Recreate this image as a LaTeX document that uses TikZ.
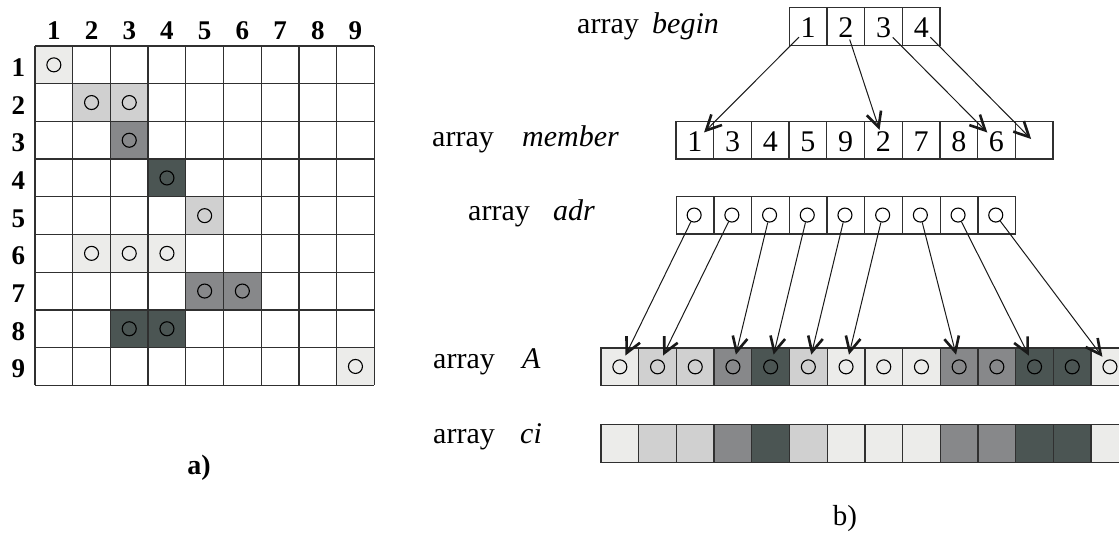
\documentclass[tikz,border=0pt]{standalone}
\usepackage{fontspec}
\setmainfont{Liberation Serif}
\usetikzlibrary{arrows.meta}
\definecolor{cA}{HTML}{ECECEA}
\definecolor{cB}{HTML}{D0D0D0}
\definecolor{cC}{HTML}{87888A}
\definecolor{cD}{HTML}{4B5553}
\definecolor{lineC}{HTML}{303030}
\begin{document}
\begin{tikzpicture}[x=1pt,y=-1pt,
  gl/.style={draw=lineC,line width=1.3pt},
  cellbox/.style={draw=lineC,line width=1.3pt,minimum size=37.7pt,inner sep=0pt,outer sep=0pt},
  dot/.style={circle,draw=black,line width=1.1pt,minimum size=14pt,inner sep=0pt},
  glab/.style={font=\fontsize{27}{30}\selectfont\bfseries,inner sep=0pt},
  txt/.style={font=\fontsize{30}{32}\selectfont,inner sep=0pt},
  dig/.style={font=\fontsize{30}{32}\selectfont,inner sep=1.5pt,anchor=base},
  arr/.style={draw=black!90,line width=1pt,-{Straight Barb[length=15pt,width=15pt,line width'=2.6pt]}}
]
\useasboundingbox (0,0) rectangle (1119,533);
\clip (0,0) rectangle (1119,533);
\def\cs{37.7}
% ---------- a) grid ----------
\foreach \r/\c/\col in {1/1/cA,2/2/cB,2/3/cB,3/3/cC,4/4/cD,5/5/cB,6/2/cA,6/3/cA,6/4/cA,7/5/cC,7/6/cC,8/3/cD,8/4/cD,9/9/cA}{
  \fill[\col] ({35+(\c-1)*\cs},{46+(\r-1)*\cs}) rectangle +(\cs,\cs);
  \node[dot] (g\r-\c) at ({35+(\c-0.5)*\cs},{46+(\r-0.5)*\cs}) {};
}
\foreach \i in {0,...,9}{
  \draw[gl] ({35+\i*\cs},46) -- ({35+\i*\cs},{46+9*\cs});
  \draw[gl] (35,{46+\i*\cs}) -- ({35+9*\cs},{46+\i*\cs});
}
\foreach \i in {1,...,9}{
  \node[glab,anchor=base] (cl\i) at ({35+(\i-0.5)*\cs},39.5) {\i};
  \node[glab,anchor=base] (rl\i) at (18.5,{46+(\i-0.5)*\cs+11.5}) {\i};
}
\node[font=\fontsize{28}{30}\selectfont\bfseries,anchor=base,inner sep=0pt] (la) at (199,474) {a)};
% ---------- b) labels ----------
\node[txt,anchor=base west] (lb1) at (577,33) {array};
\node[txt,anchor=base west] (lb2) at (652,33) {\itshape begin};
\node[txt,anchor=base west] (lm1) at (432,146.7) {array};
\node[txt,anchor=base west] (lm2) at (522,146.7) {\itshape member};
\node[txt,anchor=base west] (ld1) at (468,220) {array};
\node[txt,anchor=base west] (ld2) at (553,220) {\itshape adr};
\node[txt,anchor=base west] (lA1) at (433,368) {array};
\node[txt,anchor=base west] (lA2) at (522,368) {\itshape A};
\node[txt,anchor=base west] (lc1) at (433,443) {array};
\node[txt,anchor=base west] (lc2) at (520,443) {\itshape ci};
\node[font=\fontsize{29}{32}\selectfont,anchor=base,inner sep=0pt] (lbb) at (845,525) {b)};
% ---------- begin array ----------
\foreach \i in {1,...,4}{
  \node[cellbox] (bc\i) at ({789.3+(\i-0.5)*\cs},{7.5+0.5*\cs}) {};
  \node[dig] (b\i) at ({789.3+(\i-0.5)*\cs},{7.5+0.5*\cs+11.5}) {\i};
}
% ---------- member array ----------
\foreach \v [count=\i] in {1,3,4,5,9,2,7,8,6}{
  \node[cellbox] (mc\i) at ({676+(\i-0.5)*\cs},{121.2+0.5*\cs}) {};
  \node[dig] (m\i) at ({676+(\i-0.5)*\cs},{121.2+0.5*\cs+11.5}) {\v};
}
\node[cellbox] (mc10) at ({676+9.5*\cs},{121.2+0.5*\cs}) {};
\coordinate (m10) at ({676+9.5*\cs-3},{121.2+0.5*\cs-1});
% ---------- adr array ----------
\foreach \i in {1,...,9}{
  \node[cellbox] (ac\i) at ({676.3+(\i-0.5)*\cs},{196.2+0.5*\cs}) {};
  \node[dot] (a\i) at ({676.3+(\i-0.5)*\cs-1},{196.2+0.5*\cs}) {};
}
% ---------- A and ci arrays ----------
\foreach \col [count=\i] in {cA,cB,cB,cC,cD,cB,cA,cA,cA,cC,cC,cD,cD,cA}{
  \node[cellbox,fill=\col] (Ac\i) at ({601+(\i-0.5)*\cs},{348+0.5*\cs}) {};
  \node[dot] (A\i) at ({601+(\i-0.5)*\cs},{348+0.5*\cs}) {};
  \node[cellbox,fill=\col] (ci\i) at ({601+(\i-0.5)*\cs},{424.5+0.5*\cs}) {};
}
% ---------- arrows ----------
\draw[arr] (b1) -- (m1);
\draw[arr] (b2) -- (m6);
\draw[arr] (b3) -- (m9);
\draw[arr] (b4) -- (m10);
\foreach \s/\t in {1/1,2/2,3/4,4/5,5/6,6/7,7/10,8/12,9/14}{
  \draw[arr,shorten >=5pt] (a\s) -- (A\t);
}
\end{tikzpicture}
\end{document}
